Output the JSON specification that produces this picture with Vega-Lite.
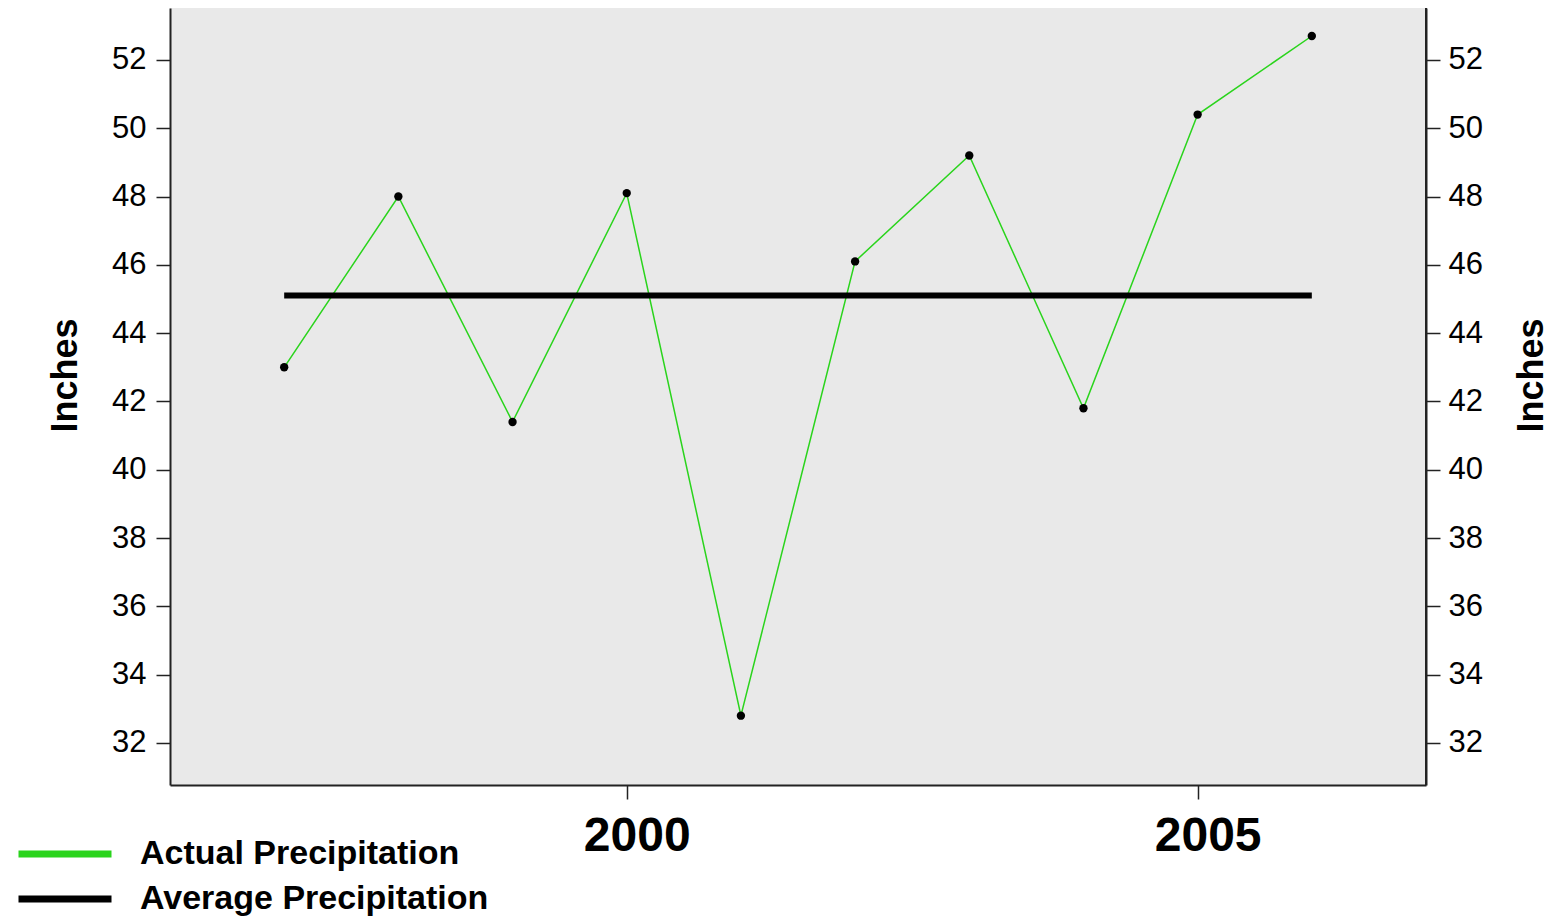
{
  "$schema": "https://vega.github.io/schema/vega-lite/v6.json",
  "autosize": {"type": "none"},
  "width": 1256,
  "height": 777,
  "padding": {"left": 170, "top": 8, "right": 124, "bottom": 131},
  "background": "white",
  "config": {
    "view": {"fill": "#e9e9e9", "stroke": null},
    "font": "Liberation Sans"
  },
  "data": {
    "values": [
      {"year": 1997, "inches": 43.0, "series": "Actual Precipitation"},
      {"year": 1998, "inches": 48.0, "series": "Actual Precipitation"},
      {"year": 1999, "inches": 41.4, "series": "Actual Precipitation"},
      {"year": 2000, "inches": 48.1, "series": "Actual Precipitation"},
      {"year": 2001, "inches": 32.8, "series": "Actual Precipitation"},
      {"year": 2002, "inches": 46.1, "series": "Actual Precipitation"},
      {"year": 2003, "inches": 49.2, "series": "Actual Precipitation"},
      {"year": 2004, "inches": 41.8, "series": "Actual Precipitation"},
      {"year": 2005, "inches": 50.4, "series": "Actual Precipitation"},
      {"year": 2006, "inches": 52.7, "series": "Actual Precipitation"},
      {"year": 1997, "inches": 45.1, "series": "Average Precipitation"},
      {"year": 2006, "inches": 45.1, "series": "Average Precipitation"}
    ]
  },
  "encoding": {
    "x": {
      "field": "year",
      "type": "quantitative",
      "scale": {"domain": [1996, 2007], "nice": false, "zero": false},
      "axis": {
        "title": null,
        "values": [2000, 2005],
        "format": "d",
        "grid": false,
        "domainColor": "#222222",
        "domainWidth": 2,
        "tickColor": "#222222",
        "tickWidth": 1.5,
        "tickSize": 14,
        "labelFontSize": 48,
        "labelFontWeight": "bold",
        "labelColor": "black",
        "labelPadding": 13,
        "labelOffset": 10
      }
    }
  },
  "layer": [
    {
      "encoding": {
        "y": {
          "field": "inches",
          "type": "quantitative",
          "scale": {"domain": [30.77, 53.52], "nice": false, "zero": false},
          "axis": {
            "title": "Inches",
            "orient": "left",
            "values": [32, 34, 36, 38, 40, 42, 44, 46, 48, 50, 52],
            "grid": false,
            "domainColor": "#222222",
            "domainWidth": 2,
            "tickColor": "#222222",
            "tickWidth": 1.5,
            "tickSize": 14,
            "labelFontSize": 31,
            "labelColor": "black",
            "labelPadding": 10,
            "titleFontSize": 36,
            "titleFontWeight": "bold",
            "titleColor": "black",
            "titlePadding": 27,
            "titleY": 367
          }
        }
      },
      "layer": [
        {
          "transform": [{"filter": "datum.series === 'Actual Precipitation'"}],
          "mark": {"type": "line", "strokeWidth": 1.5},
          "encoding": {
            "color": {
              "field": "series",
              "type": "nominal",
              "scale": {"domain": ["Actual Precipitation", "Average Precipitation"], "range": ["#2ad41c", "#000000"]},
              "legend": {
                "title": null,
                "orient": "none",
                "legendX": -124,
                "legendY": 827,
                "padding": 0,
                "symbolType": "M-3,0H3",
                "symbolSize": 961,
                "symbolStrokeWidth": 7,
                "symbolFillColor": "transparent",
                "labelFontSize": 34,
                "labelFontWeight": "bold",
                "labelColor": "black",
                "labelOffset": 56,
                "rowPadding": 9,
                "labelLimit": 600
              }
            }
          }
        },
        {
          "transform": [{"filter": "datum.series === 'Average Precipitation'"}],
          "mark": {"type": "line", "strokeWidth": 6},
          "encoding": {
            "color": {"field": "series", "type": "nominal"}
          }
        },
        {
          "transform": [{"filter": "datum.series === 'Actual Precipitation'"}],
          "mark": {"type": "point", "filled": true, "shape": "circle", "size": 70, "color": "black", "opacity": 1}
        }
      ]
    },
    {
      "mark": {"type": "rule", "color": "#222222", "strokeWidth": 2},
      "encoding": {
        "y": {
          "datum": 30.77,
          "scale": {"domain": [30.77, 53.52], "nice": false, "zero": false},
          "axis": {
            "title": "Inches",
            "orient": "right",
            "values": [32, 34, 36, 38, 40, 42, 44, 46, 48, 50, 52],
            "grid": false,
            "domainColor": "#222222",
            "domainWidth": 2,
            "tickColor": "#222222",
            "tickWidth": 1.5,
            "tickSize": 14,
            "labelFontSize": 31,
            "labelColor": "black",
            "labelPadding": 8,
            "titleFontSize": 36,
            "titleFontWeight": "bold",
            "titleColor": "black",
            "titleAngle": 270,
            "titleBaseline": "middle",
            "titleX": 105,
            "titleY": 367
          }
        },
        "y2": {"datum": 53.52},
        "x": {"datum": 2007}
      }
    }
  ],
  "resolve": {"axis": {"y": "independent"}}
}
